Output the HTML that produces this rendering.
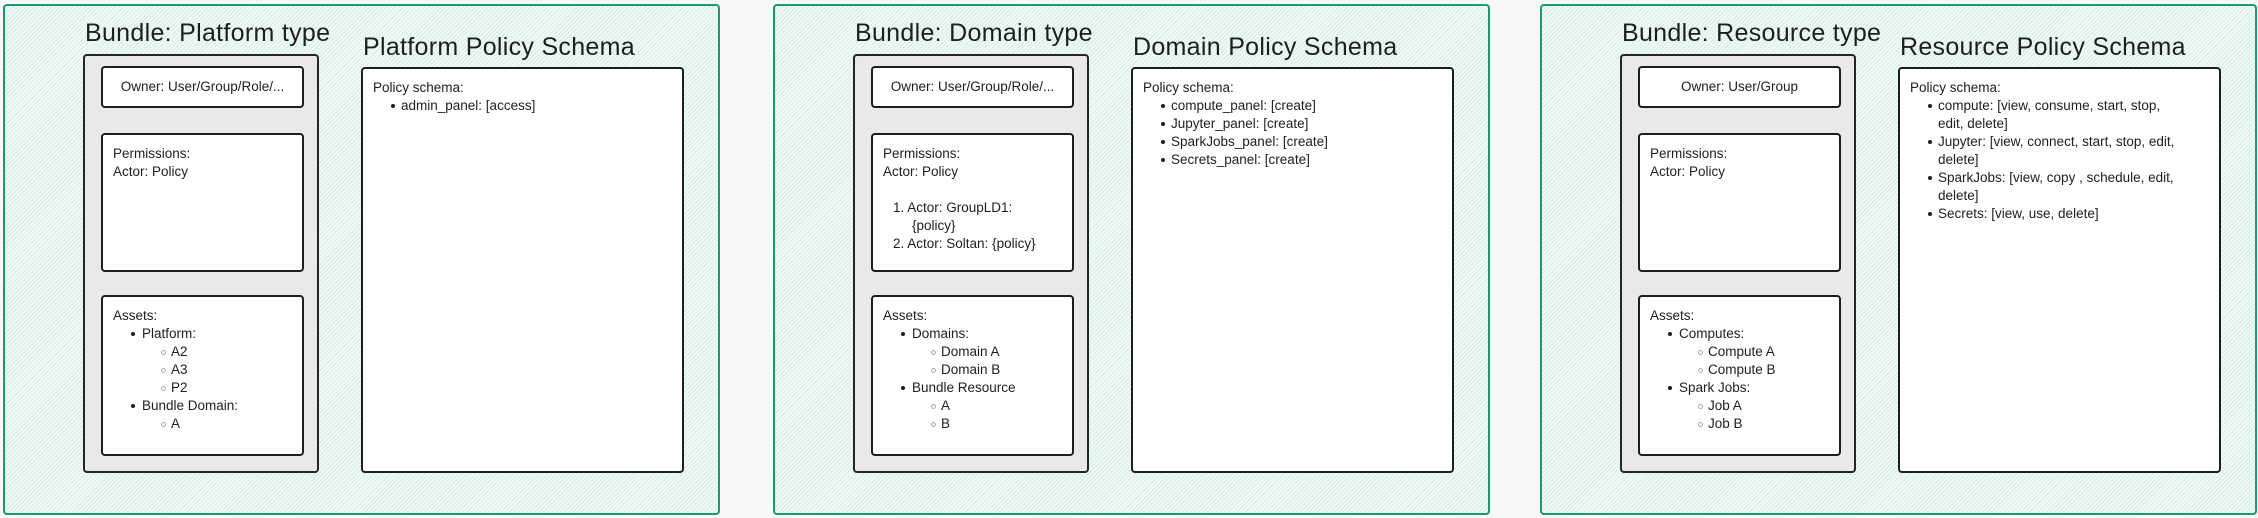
<!DOCTYPE html>
<html><head><meta charset="utf-8"><style>
html,body{margin:0;padding:0}
body{width:2258px;height:518px;background:#f7f8f9;position:relative;overflow:hidden;font-family:"Liberation Sans",sans-serif;color:#1e1e1e}
.fr{position:absolute;top:4px;width:713px;height:507px;border:2px solid #1f9a70;border-radius:4px;
background-color:#f1faf6;background-image:repeating-linear-gradient(135deg,#d2ede2 0 1px,transparent 1px 3px)}
.t{position:absolute;font-size:25px;line-height:30px;white-space:nowrap;letter-spacing:0.3px}
.g{position:absolute;left:78px;top:48px;width:232px;height:415px;background:#e9e9e9;border:2px solid #252525;border-radius:4px}
.b{position:absolute;left:16px;width:199px;background:#fff;border:2px solid #1e1e1e;border-radius:4px;font-size:13.5px;line-height:18px;white-space:nowrap}
.p{position:absolute;left:356px;top:61px;width:319px;height:402px;background:#fff;border:2px solid #1e1e1e;border-radius:4px;font-size:13.5px;line-height:18px;white-space:nowrap}
.in{position:absolute;left:10px;top:10px}
.l1{padding-left:29px;position:relative}
.l1:before{content:"";position:absolute;left:18px;top:7px;width:4px;height:4px;border-radius:50%;background:#1e1e1e}
.l2{padding-left:58px;position:relative}
.l2:before{content:"";position:absolute;left:48px;top:7px;width:3px;height:3px;border-radius:50%;border:1px solid #aaa}
.w{padding-left:28px;position:relative}
.w span.d{position:absolute;left:18px;top:7px;width:4px;height:4px;border-radius:50%;background:#1e1e1e}
</style></head><body>

<div class="fr" style="left:3px">
  <div class="t" style="left:80px;top:12px">Bundle: Platform type</div>
  <div class="t" style="left:358px;top:26px">Platform Policy Schema</div>
  <div class="g">
    <div class="b" style="top:10px;height:38px;line-height:38px;text-align:center">Owner: User/Group/Role/...</div>
    <div class="b" style="top:77px;height:135px"><div class="in">Permissions:<br>Actor: Policy</div></div>
    <div class="b" style="top:239px;height:157px"><div class="in">
      <div>Assets:</div>
      <div class="l1">Platform:</div>
      <div class="l2">A2</div><div class="l2">A3</div><div class="l2">P2</div>
      <div class="l1">Bundle Domain:</div>
      <div class="l2">A</div>
    </div></div>
  </div>
  <div class="p"><div class="in">
    <div>Policy schema:</div>
    <div class="w"><span class="d"></span>admin_panel: [access]</div>
  </div></div>
</div>

<div class="fr" style="left:773px">
  <div class="t" style="left:80px;top:12px">Bundle: Domain type</div>
  <div class="t" style="left:358px;top:26px">Domain Policy Schema</div>
  <div class="g">
    <div class="b" style="top:10px;height:38px;line-height:38px;text-align:center">Owner: User/Group/Role/...</div>
    <div class="b" style="top:77px;height:135px"><div class="in">Permissions:<br>Actor: Policy<br><br>
      <div style="padding-left:10px">1. Actor: GroupLD1:<br><span style="padding-left:19px">{policy}</span><br>2. Actor: Soltan: {policy}</div></div></div>
    <div class="b" style="top:239px;height:157px"><div class="in">
      <div>Assets:</div>
      <div class="l1">Domains:</div>
      <div class="l2">Domain A</div><div class="l2">Domain B</div>
      <div class="l1">Bundle Resource</div>
      <div class="l2">A</div><div class="l2">B</div>
    </div></div>
  </div>
  <div class="p"><div class="in">
    <div>Policy schema:</div>
    <div class="w"><span class="d"></span>compute_panel: [create]</div>
    <div class="w"><span class="d"></span>Jupyter_panel: [create]</div>
    <div class="w"><span class="d"></span>SparkJobs_panel: [create]</div>
    <div class="w"><span class="d"></span>Secrets_panel: [create]</div>
  </div></div>
</div>

<div class="fr" style="left:1540px">
  <div class="t" style="left:80px;top:12px">Bundle: Resource type</div>
  <div class="t" style="left:358px;top:26px">Resource Policy Schema</div>
  <div class="g">
    <div class="b" style="top:10px;height:38px;line-height:38px;text-align:center">Owner: User/Group</div>
    <div class="b" style="top:77px;height:135px"><div class="in">Permissions:<br>Actor: Policy</div></div>
    <div class="b" style="top:239px;height:157px"><div class="in">
      <div>Assets:</div>
      <div class="l1">Computes:</div>
      <div class="l2">Compute A</div><div class="l2">Compute B</div>
      <div class="l1">Spark Jobs:</div>
      <div class="l2">Job A</div><div class="l2">Job B</div>
    </div></div>
  </div>
  <div class="p"><div class="in">
    <div>Policy schema:</div>
    <div class="w"><span class="d"></span>compute: [view, consume, start, stop,<br>edit, delete]</div>
    <div class="w"><span class="d"></span>Jupyter: [view, connect, start, stop, edit,<br>delete]</div>
    <div class="w"><span class="d"></span>SparkJobs: [view, copy , schedule, edit,<br>delete]</div>
    <div class="w"><span class="d"></span>Secrets: [view, use, delete]</div>
  </div></div>
</div>

</body></html>
